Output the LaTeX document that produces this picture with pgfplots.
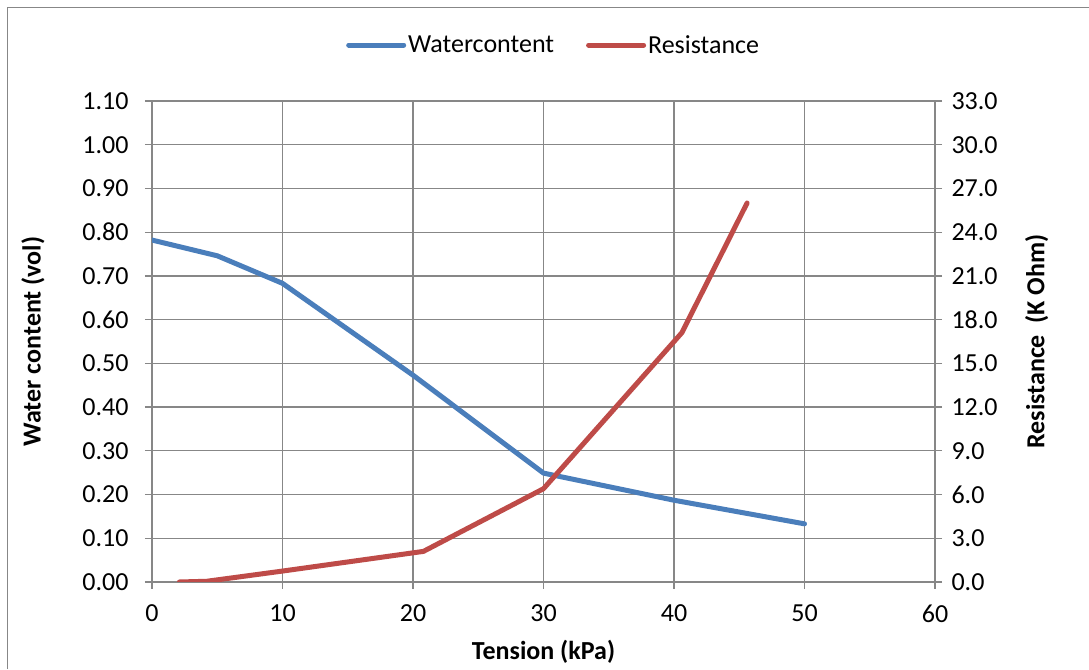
\documentclass[border=0pt]{standalone}
\usepackage{fontspec}
\setmainfont{Carlito}
\usepackage{pgfplots}
\pgfplotsset{compat=1.18}
\definecolor{wblue}{HTML}{4A7EBB}
\definecolor{rred}{HTML}{BE4B48}
\definecolor{gridg}{HTML}{878787}
\newcommand{\cf}{\fontsize{26}{30}\selectfont}
\pgfplotsset{
  common/.style={
    at={(152pt,87pt)}, anchor=south west, scale only axis,
    width=783pt, height=481pt,
    xmin=0, xmax=60,
    tick label style={font=\cf, black},
    label style={font=\cf\bfseries},
    axis line style={gridg, line width=1.3pt},
    tick style={gridg, line width=1.3pt},
    tick align=outside, major tick length=7pt,
  }
}
\begin{document}
\begin{tikzpicture}[x=1pt,y=1pt]
\path[use as bounding box] (0,0) rectangle (1089,669);
\draw[gridg, line width=1.5pt] (7.5,0) -- (7.5,661.5) -- (1089,661.5);
\begin{axis}[common,
  ymin=0, ymax=1.1,
  xtick={0,10,20,30,40,50,60},
  ytick={0,0.1,0.2,0.3,0.4,0.5,0.6,0.7,0.8,0.9,1.0,1.1},
  xtick pos=bottom, ytick pos=left,
  grid=major, major grid style={gridg, line width=1.3pt},
  yticklabel style={xshift=-13pt, /pgf/number format/fixed, /pgf/number format/fixed zerofill, /pgf/number format/precision=2, /pgf/number format/assume math mode=true},
  xticklabel style={/pgf/number format/assume math mode=true, yshift=-12pt},
  xlabel={Tension (kPa)},
  ylabel={Water content (vol)},
  xlabel style={at={(axis description cs:0.5,-0.1455)}, anchor=center},
  ylabel style={at={(axis description cs:-0.152,0.5)}, anchor=center},
  legend style={draw=none, fill=none, font=\cf, legend columns=2,
    at={(axis description cs:0.513,1.1164)}, anchor=center,
    /tikz/every even column/.append style={column sep=30pt}},
  legend image code/.code={\draw[#1] (0pt,0pt) -- (55pt,0pt);},
]
\addplot[wblue, line width=5pt, line cap=round, line join=round] coordinates {
  (0,0.782) (5,0.746) (10,0.683) (20,0.473) (30,0.249) (40,0.187) (50,0.133)
};
\addlegendentry{Watercontent}
\addlegendimage{rred, line width=5pt, line cap=round}
\addlegendentry{Resistance}
\end{axis}
\begin{axis}[common,
  ymin=0, ymax=33,
  ytick={0,3,6,9,12,15,18,21,24,27,30,33},
  hide x axis,
  axis y line*=right,
  yticklabel style={xshift=6pt, /pgf/number format/fixed, /pgf/number format/fixed zerofill, /pgf/number format/precision=1, /pgf/number format/assume math mode=true},
  ylabel={Resistance\ \ (K Ohm)},
  ylabel style={at={(axis description cs:1.130,0.5)}, anchor=center},
]
\addplot[rred, line width=5pt, line cap=round, line join=round] coordinates {
  (2.1,0) (4.2,0.05) (10,0.75) (20.8,2.1) (30,6.4) (40.6,17.1) (45.6,26.0)
};
\end{axis}
\end{tikzpicture}
\end{document}
